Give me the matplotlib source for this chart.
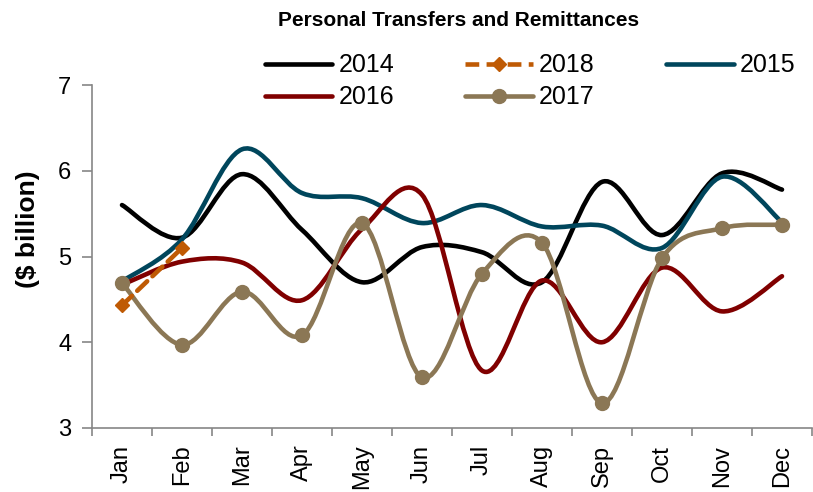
import matplotlib
matplotlib.use("Agg")
import matplotlib.pyplot as plt
from matplotlib.path import Path
from matplotlib.patches import PathPatch
from matplotlib.lines import Line2D
import numpy as np

months = ["Jan", "Feb", "Mar", "Apr", "May", "Jun", "Jul", "Aug", "Sep", "Oct", "Nov", "Dec"]
y2014 = [5.60, 5.22, 5.96, 5.31, 4.70, 5.11, 5.05, 4.70, 5.87, 5.25, 5.97, 5.78]
y2015 = [4.71, 5.20, 6.25, 5.74, 5.68, 5.39, 5.60, 5.35, 5.36, 5.10, 5.93, 5.40]
y2016 = [4.67, 4.94, 4.93, 4.49, 5.32, 5.72, 3.67, 4.72, 4.00, 4.87, 4.36, 4.77]
y2017 = [4.69, 3.97, 4.59, 4.08, 5.39, 3.59, 4.80, 5.16, 3.29, 4.98, 5.33, 5.37]
y2018 = [4.43, 5.10]

plt.rcParams["font.family"] = ["Liberation Sans", "DejaVu Sans"]

c2014 = "#000000"
c2015 = "#00465C"
c2016 = "#800000"
c2017 = "#8B7755"
c2018 = "#BF5A04"
LW = 3.3

fig = plt.figure(figsize=(8.13, 4.92), dpi=100)
ax = fig.add_axes([92/813, (492-428)/492, 720/813, 343/492])


def smooth_path(xs, ys):
    xs = np.asarray(xs, float)
    ys = np.asarray(ys, float)
    n = len(xs)
    verts = [(xs[0], ys[0])]
    codes = [Path.MOVETO]
    for i in range(n - 1):
        i0 = max(i - 1, 0)
        i3 = min(i + 2, n - 1)
        p0 = np.array([xs[i0], ys[i0]])
        p1 = np.array([xs[i], ys[i]])
        p2 = np.array([xs[i + 1], ys[i + 1]])
        p3 = np.array([xs[i3], ys[i3]])
        c1 = p1 + (p2 - p0) / 6.0
        c2 = p2 - (p3 - p1) / 6.0
        verts += [tuple(c1), tuple(c2), tuple(p2)]
        codes += [Path.CURVE4] * 3
    return Path(verts, codes)


def draw(ys, color, ls="-", z=2):
    xs = np.arange(len(ys))
    patch = PathPatch(smooth_path(xs, ys), fill=False, edgecolor=color, lw=LW,
                      linestyle=ls, capstyle="round", joinstyle="round", zorder=z)
    ax.add_patch(patch)


draw(y2014, c2014, z=2)
draw(y2015, c2015, z=3)
draw(y2016, c2016, z=4)
draw(y2017, c2017, z=5)
ax.plot(np.arange(len(y2017)), y2017, "o", color=c2017, ms=10, zorder=5.5)
draw(y2018, c2018, ls=(0, (3.0, 1.6)), z=6)
ax.plot(np.arange(len(y2018)), y2018, "D", color=c2018, ms=7, zorder=6.5)

ax.set_xlim(-0.5, 11.5)
ax.set_ylim(3, 7)
ax.set_yticks([3, 4, 5, 6, 7])
ax.set_xticks(np.arange(12))
ax.set_xticklabels(months, rotation=90)
ax.set_xticks(np.arange(-0.5, 12, 1), minor=True)
ax.tick_params(axis="x", which="major", length=0, pad=12, labelsize=17)
ax.tick_params(axis="x", which="minor", length=6, width=1.2, color="#868686", direction="out")
ax.tick_params(axis="y", length=7, width=1.2, color="#868686", direction="out", labelsize=17, pad=8)
for s in ["top", "right"]:
    ax.spines[s].set_visible(False)
for s in ["left", "bottom"]:
    ax.spines[s].set_color("#868686")
    ax.spines[s].set_linewidth(1.2)

ax.set_ylabel("($ billion)", fontsize=19, fontweight="bold")
ax.yaxis.set_label_coords(-0.072, 0.58)
fig.text(459/813, 1 - 20/492, "Personal Transfers and Remittances", ha="center", va="center",
         fontsize=15, fontweight="bold")

h2014 = Line2D([], [], color=c2014, lw=LW, solid_capstyle="round")
h2015 = Line2D([], [], color=c2015, lw=LW, solid_capstyle="round")
h2016 = Line2D([], [], color=c2016, lw=LW, solid_capstyle="round")
h2017 = Line2D([], [], color=c2017, lw=LW, marker="o", ms=10, solid_capstyle="round")
h2018 = Line2D([], [], color=c2018, lw=LW, ls=(0, (3.0, 1.6)), marker="D", ms=7)
handles = [h2014, h2016, h2018, h2017, h2015]
labels = ["2014", "2016", "2018", "2017", "2015"]
fig.legend(handles, labels, ncol=3, loc="center", bbox_to_anchor=(530/813, 1 - 81.5/492),
           frameon=False, fontsize=18, handlelength=2.7, handletextpad=0.25,
           columnspacing=2.85, labelspacing=0.32, borderpad=0, borderaxespad=0)

fig.savefig("out.png", dpi=100)
